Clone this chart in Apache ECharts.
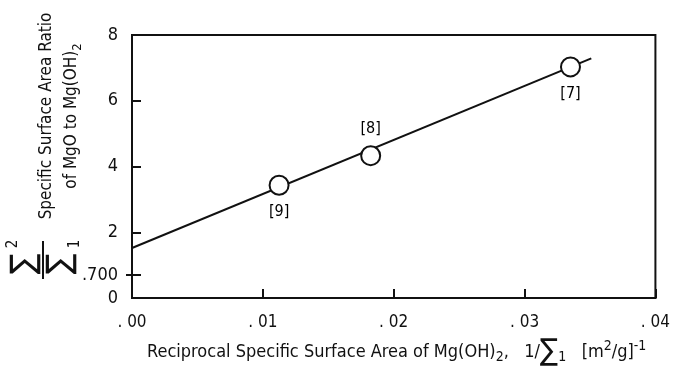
<!DOCTYPE html>
<html>
<head>
<meta charset="utf-8">
<script src="https://cdn.jsdelivr.net/npm/echarts@6/dist/echarts.min.js"></script>
<style>
  html, body { margin: 0; padding: 0; background: #fff; }
  #main { width: 673px; height: 371px; }
</style>
</head>
<body>
<div id="main"></div>
<script>
// fitted line end points
var fitX = [0, 0.0351];
var fitY = [1.52, 7.29];

// measured points and their reference numbers
var sampleX = [0.01124, 0.01824, 0.03351];
var sampleY = [3.43, 4.33, 7.03];
var sampleRefs = ['[9]', '[8]', '[7]'];

// tick labels
var xTicks = [0, 0.01, 0.02, 0.03, 0.04];
var yTicks = [0, 0.7, 2, 4, 6, 8];

var FONT = '"DejaVu Sans Condensed", "Liberation Sans Narrow", sans-serif';
var labelSide = ['bottom', 'top', 'bottom'];

var myChart = echarts.init(document.getElementById('main'));

var linePts = [];
for (var i = 0; i < fitX.length; i++) linePts.push([fitX[i], fitY[i]]);

var pts = [];
for (var i = 0; i < sampleX.length; i++) {
    pts.push({
        value: [sampleX[i], sampleY[i]],
        label: { show: true, formatter: sampleRefs[i], position: labelSide[i], distance: 8 }
    });
}

option = {
    backgroundColor: '#fff',
    animation: false,
    grid: {
        left: 132, right: 17, top: 35, bottom: 73,
        show: true, borderColor: '#111', borderWidth: 2
    },
    xAxis: {
        type: 'value', min: 0, max: 0.04, interval: 0.01,
        axisLine: { lineStyle: { color: '#111', width: 2 } },
        axisTick: { inside: true, length: 9, lineStyle: { color: '#111', width: 2 } },
        splitLine: { show: false },
        axisLabel: {
            margin: 16, color: '#111', fontSize: 17, fontFamily: FONT,
            customValues: xTicks,
            formatter: function (v) {
                return '. ' + (Math.round(v * 100) < 10 ? '0' : '') + Math.round(v * 100);
            }
        }
    },
    yAxis: [{
        type: 'value', min: 0, max: 8, interval: 2,
        axisLine: { lineStyle: { color: '#111', width: 2 } },
        axisTick: { inside: true, length: 9, customValues: [0.7, 2, 4, 6], lineStyle: { color: '#111', width: 2 } },
        splitLine: { show: false },
        axisLabel: {
            margin: 14, color: '#111', fontSize: 18, fontFamily: FONT,
            customValues: yTicks,
            formatter: function (v) { return v === 0.7 ? '.700' : String(v); }
        }
    }, {
        type: 'value', min: 0, max: 8, position: 'left',
        axisLine: { show: false },
        axisTick: { show: true, inside: false, length: 6, customValues: [0.7], lineStyle: { color: '#111', width: 2 } },
        axisLabel: { show: false },
        splitLine: { show: false }
    }],
    series: [{
        type: 'line',
        data: linePts,
        symbol: 'none',
        lineStyle: { color: '#111', width: 2 },
        z: 2
    }, {
        type: 'scatter',
        data: pts,
        symbol: 'circle',
        symbolSize: 19,
        itemStyle: { color: '#fff', borderColor: '#111', borderWidth: 2, opacity: 1 },
        label: { color: '#000', fontSize: 16, fontFamily: FONT },
        z: 3
    }],
    graphic: [{
        type: 'text', left: 147, top: 337,
        style: {
            text: 'Reciprocal Specific Surface Area of Mg(OH){sub|2},   1/{sig|∑}{sub|1}   [m{sup|2}/g]{sup|-1}',
            font: '18px ' + FONT, fill: '#111',
            rich: {
                sub: { fontSize: 14, fontFamily: FONT, padding: [11, 0, 0, 0] },
                sup: { fontSize: 14, fontFamily: FONT, padding: [0, 0, 11, 0] },
                sig: { fontSize: 30, fontFamily: FONT }
            }
        }
    }, {
        type: 'text', x: 47, y: 116, rotation: Math.PI / 2,
        style: {
            text: 'Specific Surface Area Ratio', font: '17px ' + FONT, fill: '#111',
            align: 'center', verticalAlign: 'middle'
        }
    }, {
        type: 'text', x: 72, y: 116, rotation: Math.PI / 2,
        style: {
            text: 'of MgO to Mg(OH){sub|2}', font: '17px ' + FONT, fill: '#111',
            align: 'center', verticalAlign: 'middle',
            rich: { sub: { fontSize: 13, fontFamily: FONT, padding: [12, 0, 0, 0] } }
        }
    }, {
        type: 'group', x: 43, y: 260, rotation: Math.PI / 2,
        children: [{
            type: 'line', shape: { x1: -19, y1: 0, x2: 19, y2: 0 },
            style: { stroke: '#111', lineWidth: 2 }
        }, {
            type: 'text', x: -4, y: -18,
            style: { text: '∑', font: '34px ' + FONT, fill: '#111', align: 'center', verticalAlign: 'middle' }
        }, {
            type: 'text', x: 16, y: -30,
            style: { text: '2', font: '15px ' + FONT, fill: '#111', align: 'center', verticalAlign: 'middle' }
        }, {
            type: 'text', x: -4, y: 18,
            style: { text: '∑', font: '34px ' + FONT, fill: '#111', align: 'center', verticalAlign: 'middle' }
        }, {
            type: 'text', x: 16, y: 32,
            style: { text: '1', font: '15px ' + FONT, fill: '#111', align: 'center', verticalAlign: 'middle' }
        }]
    }]
};

myChart.setOption(option);

window.addEventListener('resize', function () {
    myChart.resize();
});
</script>
</body>
</html>
